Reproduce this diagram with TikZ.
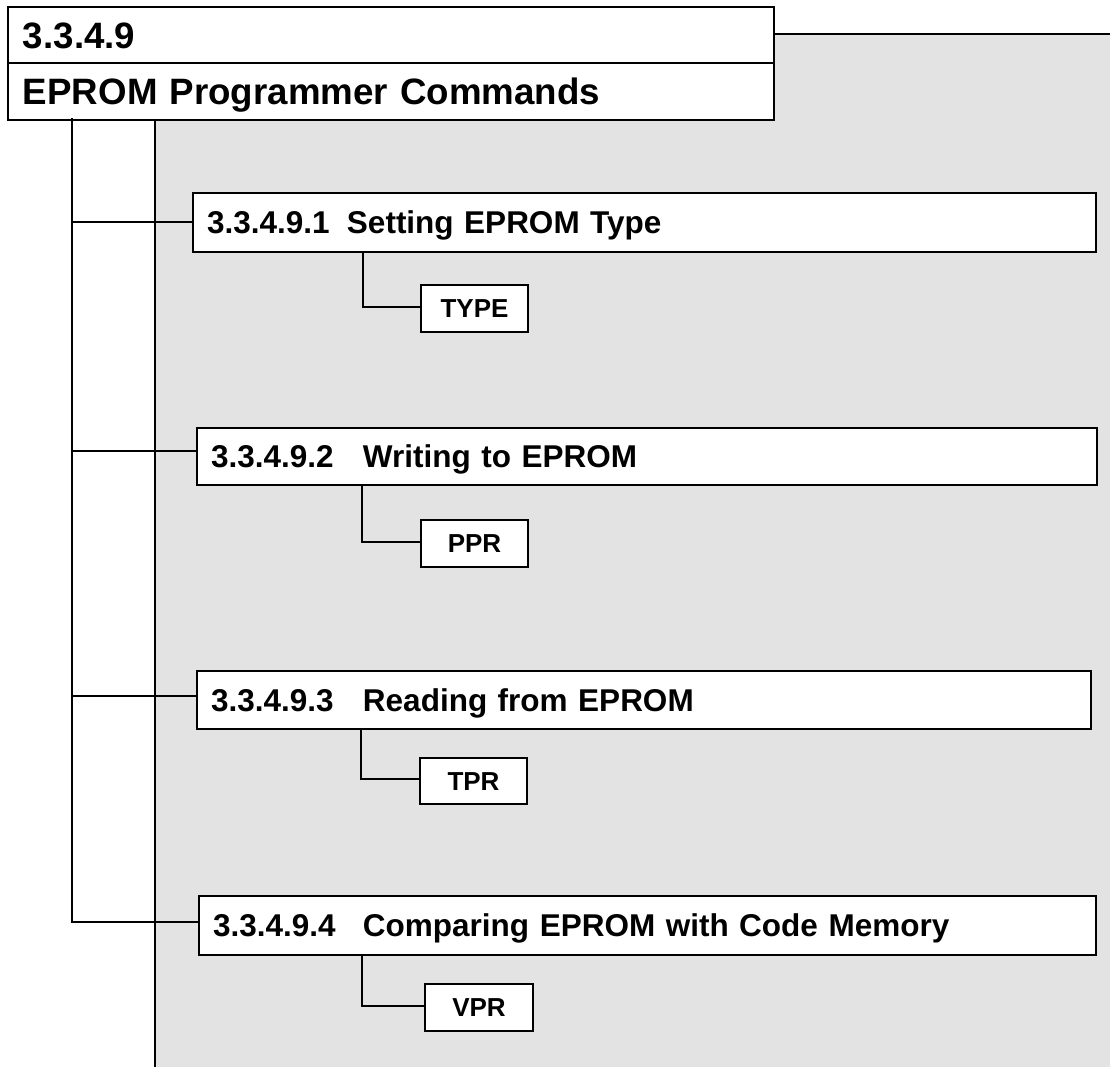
\documentclass[tikz,border=0pt]{standalone}
\usepackage{fontspec}
\setmainfont{Liberation Sans}
\definecolor{panelgray}{HTML}{E3E3E3}
\tikzset{
  ln/.style={line width=2pt, line cap=rect},
  titlebox/.style={draw, ln, fill=white, anchor=north west, inner xsep=15pt, inner ysep=0pt,
    align=left, font=\fontsize{36.7}{40}\selectfont\bfseries, text height=26.3pt, text depth=0pt},
  secbox/.style={draw, ln, fill=white, anchor=north west, inner xsep=14pt, inner ysep=0pt,
    align=left, font=\fontsize{31.5}{36}\selectfont\bfseries, text height=22.5pt, text depth=0pt},
  cmdbox/.style={draw, ln, fill=white, anchor=north west, inner sep=0pt,
    font=\fontsize{26}{30}\selectfont\bfseries, text height=18.5pt, text depth=0pt}
}
\begin{document}
\begin{tikzpicture}[x=1pt,y=-1pt]
\useasboundingbox (0,0) rectangle (1110,1067);
% gray panel
\fill[panelgray] (155,34) rectangle (1115,1075);
\draw[ln] (700,34) -- (1115,34);
\draw[ln] (155,100) -- (155,1075);
% title boxes
\node[titlebox, text width=736pt, minimum height=56pt] (t1) at (7,6) {3.3.4.9};
\node[titlebox, text width=736pt, minimum height=57pt] (t2) at (7,62) {EPROM Programmer Commands};
% section boxes
\node[secbox, text width=875pt, minimum height=59pt] (b1) at (192,192) {\makebox[140pt][l]{3.3.4.9.1}Setting EPROM Type};
\node[secbox, text width=872pt, minimum height=57pt] (b2) at (196,427) {\makebox[152pt][l]{3.3.4.9.2}Writing to EPROM};
\node[secbox, text width=866pt, minimum height=58pt] (b3) at (196,670) {\makebox[152pt][l]{3.3.4.9.3}Reading from EPROM};
\node[secbox, text width=869pt, minimum height=59pt] (b4) at (198,895) {\makebox[150pt][l]{3.3.4.9.4}Comparing EPROM with Code Memory};
% command boxes
\node[cmdbox, minimum width=107pt, minimum height=47pt] (s1) at (420,284) {TYPE};
\node[cmdbox, minimum width=107pt, minimum height=47pt] (s2) at (420,519) {PPR};
\node[cmdbox, minimum width=107pt, minimum height=46pt] (s3) at (419,757) {TPR};
\node[cmdbox, minimum width=108pt, minimum height=47pt] (s4) at (424,983) {VPR};
% left spine
\coordinate (top) at (72,119);
\coordinate (j1) at (72,222);
\coordinate (j2) at (72,451);
\coordinate (j3) at (72,696);
\coordinate (j4) at (72,922);
\draw[ln] (top) -- (j4);
\draw[ln] (j1) -- (j1 -| b1.west);
\draw[ln] (j2) -- (j2 -| b2.west);
\draw[ln] (j3) -- (j3 -| b3.west);
\draw[ln] (j4) -- (j4 -| b4.west);
% sub connectors
\coordinate (k1) at (363,307);
\coordinate (k2) at (362,542);
\coordinate (k3) at (361,779);
\coordinate (k4) at (362,1006);
\draw[ln] (k1 |- b1.south) -- (k1) -- (k1 -| s1.west);
\draw[ln] (k2 |- b2.south) -- (k2) -- (k2 -| s2.west);
\draw[ln] (k3 |- b3.south) -- (k3) -- (k3 -| s3.west);
\draw[ln] (k4 |- b4.south) -- (k4) -- (k4 -| s4.west);
\end{tikzpicture}
\end{document}
